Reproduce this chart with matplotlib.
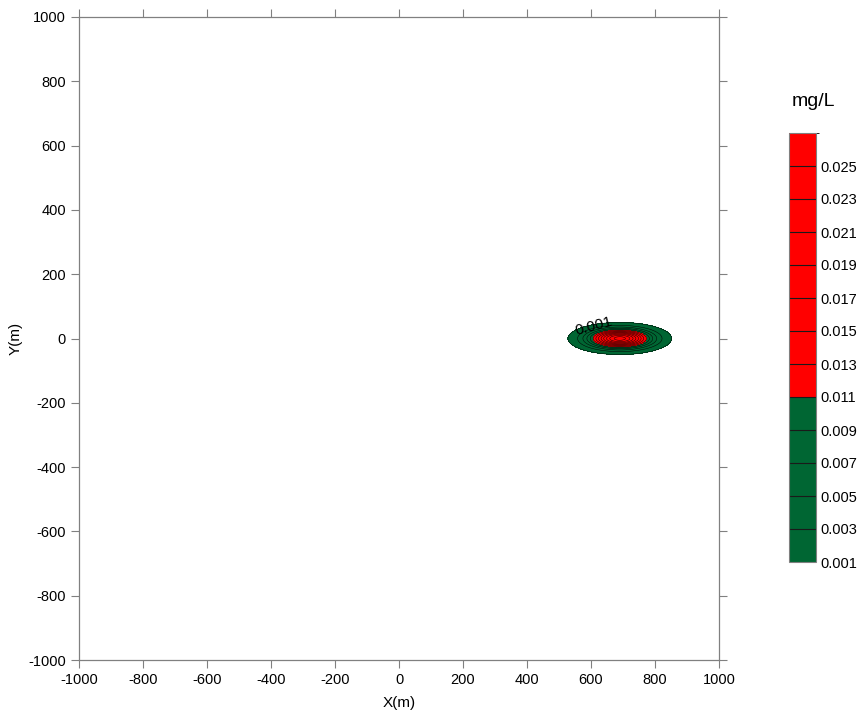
import numpy as np
import matplotlib
matplotlib.use("Agg")
import matplotlib.pyplot as plt
from matplotlib.colors import ListedColormap, BoundaryNorm

plt.rcParams['font.family'] = ['Liberation Sans', 'DejaVu Sans']
plt.rcParams['axes.unicode_minus'] = False

# plume parameters
plume_x0 = 690.0      # m
plume_y0 = 0.0        # m
plume_peak = 0.026    # mg/L
plume_sx = 63.5       # m
plume_sy = 19.6       # m

levels = [0.001, 0.003, 0.005, 0.007, 0.009, 0.011, 0.013, 0.015,
          0.017, 0.019, 0.021, 0.023, 0.025, 0.027]
level_colors = ['#006633'] * 5 + ['#ff0000'] * 8
cbar_ticks = [0.001, 0.003, 0.005, 0.007, 0.009, 0.011, 0.013, 0.015,
              0.017, 0.019, 0.021, 0.023, 0.025]
axis_ticks = [-1000, -800, -600, -400, -200, 0, 200, 400, 600, 800, 1000]

# concentration grid
x = np.linspace(-1000, 1000, 1601)
y = np.linspace(-1000, 1000, 1601)
X, Y = np.meshgrid(x, y)
C = plume_peak * np.exp(-((X - plume_x0) ** 2) / (2 * plume_sx ** 2)
                        - ((Y - plume_y0) ** 2) / (2 * plume_sy ** 2))

cmap = ListedColormap(level_colors)
norm = BoundaryNorm(levels, cmap.N)

fig = plt.figure(figsize=(8.6, 7.13), dpi=100)
ax = fig.add_axes([79 / 860, 1 - 660 / 713, 640 / 860, 643 / 713])

cf = ax.contourf(X, Y, C, levels=levels, cmap=cmap, norm=norm)
ax.contour(X, Y, C, levels=levels, colors='black', linewidths=0.35)
ax.text(609, 37, '0.001', rotation=15, ha='center', va='center', fontsize=11)

ax.set_xlim(-1000, 1000)
ax.set_ylim(-1000, 1000)
ax.set_xticks(axis_ticks)
ax.set_yticks(axis_ticks)
ax.tick_params(direction='out', length=6, width=0.8, color='#808080',
               labelsize=10.5, top=True, right=True)
for s in ax.spines.values():
    s.set_color('#808080')
    s.set_linewidth(0.9)
ax.set_xlabel('X(m)', fontsize=11, labelpad=6)
ax.set_ylabel('Y(m)', fontsize=11)
ax.yaxis.set_label_coords(-0.088, 0.5)

# colorbar
cax = fig.add_axes([789 / 860, 1 - 562 / 713, 27 / 860, 429 / 713])
cb = fig.colorbar(cf, cax=cax, ticks=cbar_ticks, drawedges=True)
cb.dividers.set_color('#1a1a1a')
cb.dividers.set_linewidth(0.8)
cb.outline.set_edgecolor('#808080')
cb.outline.set_linewidth(0.8)
cb.ax.tick_params(length=0, labelsize=10.5, pad=3)
cb.ax.set_yticklabels([f'{t:.3f}' for t in cbar_ticks])
fig.text(813 / 860, 1 - 101 / 713, 'mg/L', ha='center', va='center', fontsize=14)

fig.savefig('out.png', dpi=100)
